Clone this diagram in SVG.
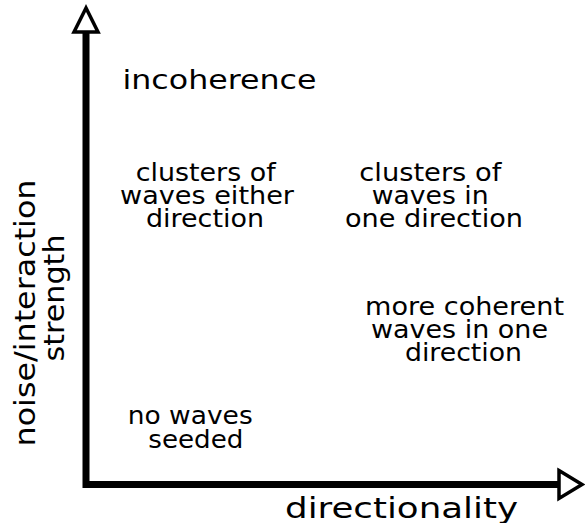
<svg xmlns="http://www.w3.org/2000/svg" width="585" height="523" viewBox="0 0 585 523">
<style>
text{font-family:"DejaVu Sans","Liberation Sans",sans-serif;fill:#000;}
.l{font-size:25px;}
.b{font-size:28px;}
.ax{fill:none;stroke:#000;stroke-width:7;stroke-linejoin:miter;stroke-linecap:butt;}
.hd{fill:#fff;stroke:#000;stroke-width:3.5;stroke-linejoin:miter;}
</style>
<rect width="585" height="523" fill="#fff"/>
<g id="connectors">
<path class="ax" d="M86,31 V484.5 H559"/>
<polygon class="hd" points="86,8 74,32 98,32"/>
<polygon class="hd" points="559,470.5 582,484.5 559,498.5"/>
</g>
<g id="y-label">
<text class="b" transform="translate(35,446.5) rotate(-90)" textLength="267" lengthAdjust="spacingAndGlyphs">noise/interaction</text>
<text class="b" transform="translate(64,361.5) rotate(-90)" textLength="127" lengthAdjust="spacingAndGlyphs">strength</text>
</g>
<g id="x-label">
<text class="b" x="285" y="517.5" textLength="233" lengthAdjust="spacingAndGlyphs">directionality</text>
</g>
<g id="incoherence">
<text style="font-size:26px" x="122.5" y="89" textLength="194" lengthAdjust="spacingAndGlyphs">incoherence</text>
</g>
<g id="clusters-either">
<text class="l" x="135.7" y="181" textLength="140" lengthAdjust="spacingAndGlyphs">clusters of</text>
<text class="l" x="120" y="204" textLength="174" lengthAdjust="spacingAndGlyphs">waves either</text>
<text class="l" x="146" y="227" textLength="118" lengthAdjust="spacingAndGlyphs">direction</text>
</g>
<g id="clusters-one">
<text class="l" x="359.3" y="181" textLength="142" lengthAdjust="spacingAndGlyphs">clusters of</text>
<text class="l" x="371.7" y="204" textLength="117" lengthAdjust="spacingAndGlyphs">waves in</text>
<text class="l" x="345" y="227" textLength="178" lengthAdjust="spacingAndGlyphs">one direction</text>
</g>
<g id="coherent">
<text class="l" x="365" y="314.5" textLength="199" lengthAdjust="spacingAndGlyphs">more coherent</text>
<text class="l" x="371" y="337.5" textLength="177" lengthAdjust="spacingAndGlyphs">waves in one</text>
<text class="l" x="405" y="360.5" textLength="117" lengthAdjust="spacingAndGlyphs">direction</text>
</g>
<g id="no-waves">
<text class="l" x="127.7" y="424" textLength="125" lengthAdjust="spacingAndGlyphs">no waves</text>
<text class="l" x="148.3" y="447.5" textLength="95" lengthAdjust="spacingAndGlyphs">seeded</text>
</g>
</svg>
